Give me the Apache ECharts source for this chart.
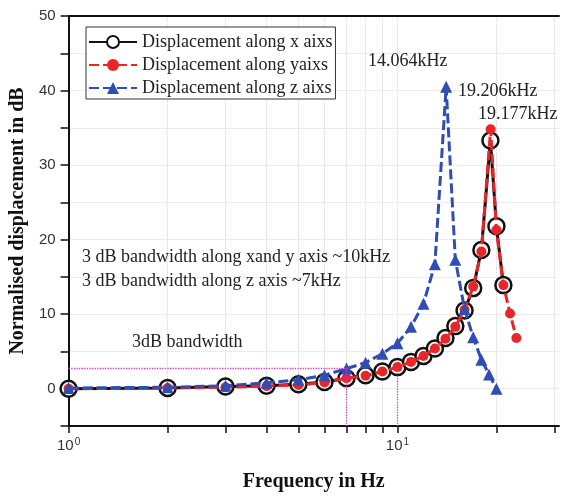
<!DOCTYPE html>
<html>
<head>
<meta charset="utf-8">
<script src="https://cdn.jsdelivr.net/npm/echarts@6/dist/echarts.min.js"></script>
<style>html,body{margin:0;padding:0;background:#fff}#c{width:563px;height:497px}</style>
</head>
<body>
<div id="c"></div>
<script>
// Displacement along x axis
const xFreq = [1,2,3,4,5,6,7,8,9,10,11,12,13,14,15,16,17,18,19.177,20,21];
const xDisp = [0,0.1,0.3,0.4,0.6,0.9,1.4,1.8,2.3,2.9,3.6,4.4,5.4,6.8,8.4,10.5,13.5,18.6,33.3,21.8,13.9];
// Displacement along y axis
const yFreq = [1,2,3,4,5,6,7,8,9,10,11,12,13,14,15,16,17,18,19.206,20,21,22,23];
const yDisp = [0,0.1,0.2,0.35,0.5,0.85,1.4,1.75,2.3,2.9,3.6,4.4,5.4,6.7,8.3,10.6,13.7,18.4,34.8,21.3,13.9,10.1,6.8];
// Displacement along z axis
const zFreq = [1,2,3,4,5,6,7,8,9,10,11,12,13,14.064,15,16,17,18,19,20];
const zDisp = [0.1,0.2,0.4,0.8,1.2,1.8,2.7,3.5,4.7,6.1,8.3,11.4,16.7,40.5,17.3,10.7,6.9,3.9,1.9,0];

const seriesNames = ['Displacement along x aixs','Displacement along yaixs','Displacement along z aixs'];
const xTickValues = [1,2,3,4,5,6,7,8,9,10,20,30];
const xLabelValues = [1,10];
const yMin = -5, yMax = 50, yStep = 5;
const xMin = 1, xMax = 31;

// 3 dB guide lines
const bw3dB = 2.8;
const bwZ = 7;
const bwXY = 10;

const annotations = [
  {text:'14.064kHz', x:368, y:62},
  {text:'19.206kHz', x:458, y:92},
  {text:'19.177kHz', x:478, y:115},
  {text:'3 dB bandwidth along xand y axis ~10kHz', x:82, y:258},
  {text:'3 dB bandwidth along z axis ~7kHz', x:82, y:282},
  {text:'3dB bandwidth', x:132, y:343}
];

const zip = (a,b) => a.map((v,i)=>[v,b[i]]);
const serif = '"Liberation Serif","Times New Roman",serif';
const sans = '"Liberation Sans",Arial,sans-serif';

const chart = echarts.init(document.getElementById('c'), null, {renderer:'canvas'});
chart.setOption({
  animation:false,
  backgroundColor:'#fff',
  grid:{left:68, right:4, top:16, bottom:71, containLabel:false},
  legend:{
    left:86, top:27, orient:'vertical',
    data:seriesNames,
    itemWidth:48, itemHeight:15, itemGap:5,
    padding:[6,3,2,2],
    borderColor:'#333', borderWidth:1, backgroundColor:'#fff',
    textStyle:{fontFamily:serif, fontSize:18, color:'#222', lineHeight:18}
  },
  xAxis:[{
    type:'log', logBase:10, min:xMin, max:xMax,
    name:'Frequency in Hz', nameLocation:'middle', nameGap:46,
    nameTextStyle:{fontFamily:serif, fontSize:20, fontWeight:'bold', color:'#111'},
    axisLine:{onZero:false, lineStyle:{color:'#111', width:2}},
    axisTick:{show:true, inside:false, length:7, customValues:xTickValues, lineStyle:{color:'#111', width:1.5}},
    axisLabel:{customValues:xLabelValues, margin:11, color:'#333', fontFamily:sans, lineHeight:24,
      formatter:function(v){ return '{b|10}{sup|' + Math.round(Math.log10(v)) + '}'; },
      rich:{
        b:{fontSize:15, fontFamily:sans, color:'#333', lineHeight:16, verticalAlign:'bottom'},
        sup:{fontSize:10, fontFamily:sans, color:'#333', lineHeight:10, verticalAlign:'top', padding:[0,0,0,1]}
      }
    },
    splitLine:{show:true, lineStyle:{color:'#d8d8d8', type:'dotted', width:1}}
  },{
    type:'log', logBase:10, min:xMin, max:xMax, position:'top',
    axisLine:{onZero:false, lineStyle:{color:'#111', width:2}},
    axisTick:{show:false}, axisLabel:{show:false}, splitLine:{show:false}
  }],
  yAxis:{
    type:'value', min:yMin, max:yMax, interval:yStep,
    name:'Normalised displacement in dB', nameLocation:'middle', nameGap:36, nameRotate:90,
    nameTextStyle:{fontFamily:serif, fontSize:20, fontWeight:'bold', color:'#111'},
    axisLine:{show:true, onZero:false, lineStyle:{color:'#111', width:2}},
    axisTick:{show:true, inside:false, length:8, lineStyle:{color:'#111', width:1.5}},
    axisLabel:{margin:13, color:'#333', fontFamily:sans, fontSize:15,
      formatter:function(v){ return (v % 10 === 0) ? String(v) : ''; }},
    splitLine:{show:true, lineStyle:{color:'#d8d8d8', type:'dotted', width:1}}
  },
  series:[
    {
      name:seriesNames[0], type:'line', data:zip(xFreq,xDisp),
      symbol:'circle', symbolSize:16, showAllSymbol:true,
      lineStyle:{color:'#111', width:3},
      itemStyle:{color:'#fff', borderColor:'#111', borderWidth:2.5},
      z:2
    },
    {
      name:seriesNames[1], type:'line', data:zip(yFreq,yDisp),
      symbol:'circle', symbolSize:10, showAllSymbol:true,
      lineStyle:{color:'#e8262a', width:3, type:[10,4]},
      itemStyle:{color:'#e8262a', borderWidth:0},
      z:3
    },
    {
      name:seriesNames[2], type:'line', data:zip(zFreq,zDisp),
      symbol:'triangle', symbolSize:12, showAllSymbol:true,
      lineStyle:{color:'#2f4db3', width:3, type:[10,4]},
      itemStyle:{color:'#2f4db3', borderWidth:0},
      z:4,
      markLine:{
        silent:true, symbol:['none','none'], animation:false,
        label:{show:false},
        lineStyle:{color:'#cc40c8', type:'dotted', width:1.3},
        data:[
          [{coord:[xMin,bw3dB]},{coord:[bwZ,bw3dB]}],
          [{coord:[bwZ,bw3dB]},{coord:[bwZ,yMin]}],
          [{coord:[bwXY,bw3dB]},{coord:[bwXY,yMin]}]
        ]
      }
    }
  ],
  graphic: annotations.map(a => ({
    type:'text', left:a.x, top:a.y - 10, silent:true, z:100,
    style:{text:a.text, font:'18px ' + serif, fill:'#222'}
  }))
});
</script>
</body>
</html>
